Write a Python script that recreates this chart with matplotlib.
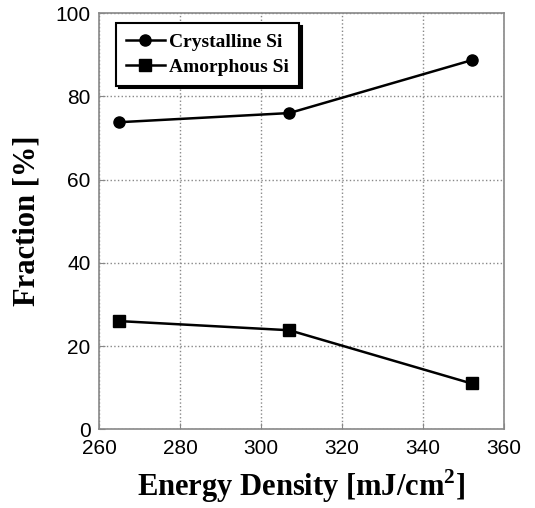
import numpy as np
import matplotlib.pyplot as plt

energy = [265, 307, 352]
crystalline = [73.8, 76.0, 88.7]
amorphous = [26.0, 23.8, 11.0]
xticks = [260, 280, 300, 320, 340, 360]
yticks = [0, 20, 40, 60, 80, 100]

plt.rcParams['mathtext.fontset'] = 'custom'
plt.rcParams['mathtext.bf'] = 'Liberation Serif:bold'
plt.rcParams['mathtext.rm'] = 'Liberation Serif:bold'

fig = plt.figure(figsize=(5.35, 5.08), dpi=100)
ax = fig.add_axes([0.185, 0.155, 0.757, 0.819])

ax.plot(energy, crystalline, color='black', lw=1.8, marker='o', ms=8, label='Crystalline Si')
ax.plot(energy, amorphous, color='black', lw=1.8, marker='s', ms=9, label='Amorphous Si')

ax.set_xlim(260, 360)
ax.set_ylim(0, 100)
ax.set_xticks(xticks)
ax.set_yticks(yticks)
ax.grid(True, linestyle=':', color='#888888', lw=1)
for s in ax.spines.values():
    s.set_color('#888888')
    s.set_linewidth(1.2)
ax.tick_params(direction='in', color='#888888', length=4, labelsize=15)
ax.tick_params(axis='x', pad=7)
ax.tick_params(axis='y', pad=6)
for lab in ax.get_xticklabels() + ax.get_yticklabels():
    lab.set_family('Liberation Sans')

ax.set_xlabel('Energy Density [mJ/cm$^\\mathbf{2}$]', fontsize=22, fontweight='bold',
              family='Liberation Serif', labelpad=7)
ax.set_ylabel('Fraction [%]', fontsize=22, fontweight='bold', family='Liberation Serif', labelpad=10)

leg = ax.legend(loc='upper left', bbox_to_anchor=(0.042, 0.976), borderaxespad=0,
                fancybox=False,
                shadow={'color': 'black', 'alpha': 1}, framealpha=1, edgecolor='black',
                prop={'family': 'Liberation Serif', 'weight': 'bold', 'size': 14},
                handlelength=2.0, borderpad=0.5, labelspacing=0.4, handletextpad=0.25)
leg.get_frame().set_linewidth(1.5)

fig.savefig('out.png', dpi=100)
